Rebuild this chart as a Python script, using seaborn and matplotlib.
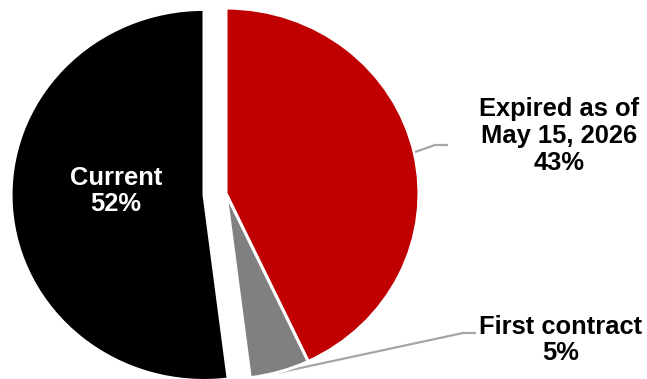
import matplotlib
matplotlib.use("Agg")
import matplotlib.pyplot as plt
import seaborn as sns

# Data
categories = ["Expired as of\nMay 15, 2026", "First contract", "Current"]
shares = [43, 5, 52]
pct_labels = ["43%", "5%", "52%"]
colors = ["#C00000", "#808080", "#000000"]
explode = [0, 0, 22]

sns.set_theme(style="white")
plt.rcParams['font.family'] = ['Liberation Sans', 'DejaVu Sans']

W, H = 647, 379
fig = plt.figure(figsize=(W / 100, H / 100), dpi=100)
ax = fig.add_axes([0, 0, 1, 1])

sy = 184.6 / 192.0  # pixels per data unit vertically


def yd(ypx):
    return (H - ypx) / sy


ax.pie(shares, colors=colors, explode=explode, startangle=90, counterclock=False,
       radius=193, center=(226, yd(193.6)),
       wedgeprops=dict(edgecolor="white", linewidth=2.2), frame=False)

ax.set_xlim(0, W)
ax.set_ylim(0, H / sy)
ax.set_aspect("auto")
ax.axis("off")

lead = "#A6A6A6"
ax.plot([415, 435, 448], [yd(152), yd(145), yd(145)], color=lead, lw=1.6,
        solid_capstyle="butt", zorder=1)
ax.plot([277, 463, 476], [yd(373), yd(333), yd(333)], color=lead, lw=1.6,
        solid_capstyle="butt", zorder=0)

fs = 18.4
ax.text(116, yd(191), "Current\n" + pct_labels[2], color="white", fontsize=fs,
        fontweight="bold", ha="center", va="center", linespacing=1.15)
ax.text(559, yd(136), categories[0] + "\n" + pct_labels[0], color="black", fontsize=fs,
        fontweight="bold", ha="center", va="center", linespacing=1.15)
ax.text(561, yd(340), categories[1] + "\n" + pct_labels[1], color="black", fontsize=fs,
        fontweight="bold", ha="center", va="center", linespacing=1.15)

fig.savefig("out.png", dpi=100, facecolor="white")
